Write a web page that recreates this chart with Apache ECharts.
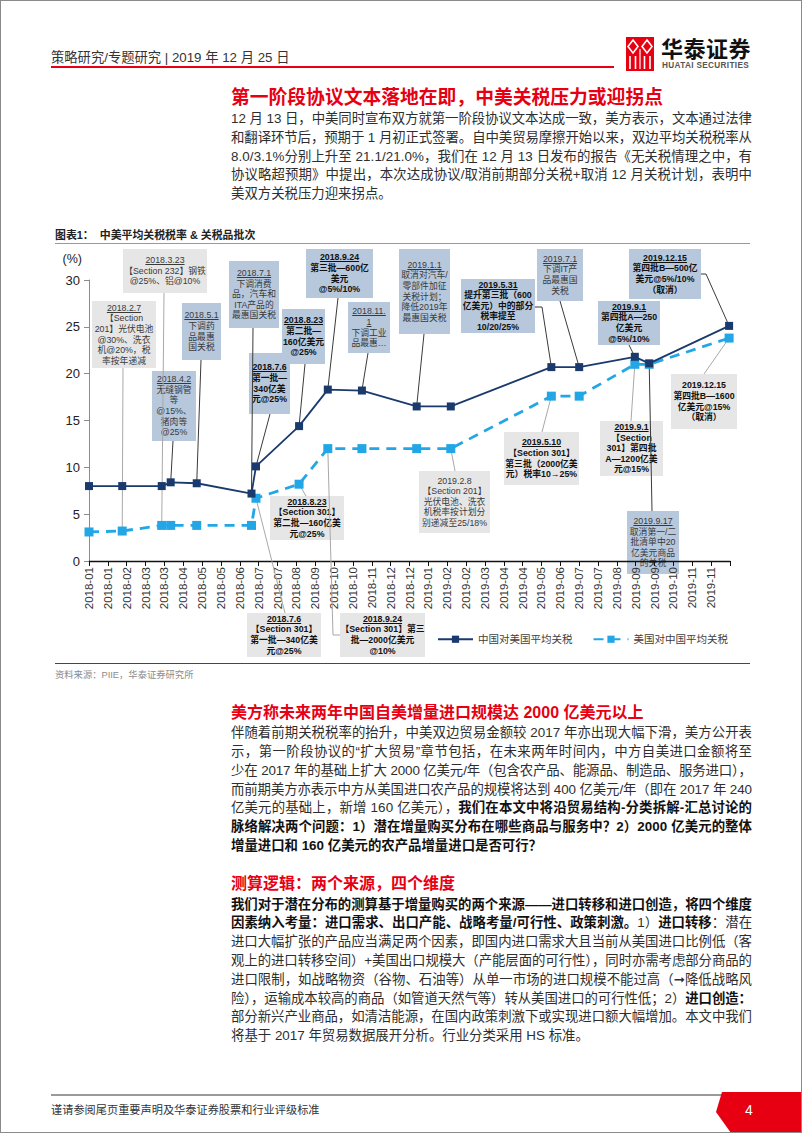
<!DOCTYPE html>
<html lang="zh-CN">
<head>
<meta charset="utf-8">
<script src="https://cdn.jsdelivr.net/npm/echarts@6/dist/echarts.min.js"></script>
<style>
html,body{margin:0;padding:0;background:#fff;}
#page{position:relative;width:802px;height:1133px;overflow:hidden;background:#fff;font-family:"Liberation Sans","Noto Sans CJK SC","DejaVu Sans",sans-serif;}
#frame{position:absolute;left:0;top:0;width:802px;height:1133px;box-sizing:border-box;border:1px solid #8a8a8a;z-index:10;pointer-events:none;}
.abs{position:absolute;white-space:nowrap;}
.title{color:#e60012;font-weight:bold;}
.ln{position:absolute;left:231px;white-space:nowrap;font-size:13.4px;line-height:18.8px;height:18.8px;color:#2e2e2e;}
.ln b{font-weight:bold;color:#111;}
#notes{position:absolute;left:0;top:0;width:802px;height:1133px;z-index:1;}
#chart{position:absolute;left:0;top:0;width:802px;height:1133px;z-index:2;}
.note{position:absolute;display:flex;flex-direction:column;justify-content:center;align-items:center;text-align:center;font-size:8.8px;line-height:10.6px;white-space:nowrap;color:#3a3a3a;}
.note.blue{background:#b7c8dd;}
.note.gray{background:#e6e6e6;}
.note.bold{font-weight:bold;color:#111;}
.note span.u{text-decoration:underline;}
</style>
</head>
<body>
<div id="page">
  <div id="frame"></div>

  <!-- header -->
  <div class="abs" style="left:51px;top:50px;font-size:13.3px;line-height:16px;color:#333;">策略研究/专题研究 | 2019 年 12 月 25 日</div>
  <div class="abs" style="left:51px;top:66px;width:563px;height:1.5px;background:#e60012;"></div>
  <svg class="abs" style="left:626px;top:37px;" width="28" height="34" viewBox="0 0 28 34">
    <rect x="0" y="0" width="28" height="34" fill="#e60012"/>
    <polygon points="7,3 12,9.5 7,16 2,9.5" fill="none" stroke="#fff" stroke-width="1.6"/>
    <polygon points="21,3 26,9.5 21,16 16,9.5" fill="none" stroke="#fff" stroke-width="1.6"/>
    <line x1="4" y1="19" x2="4" y2="32" stroke="#fff" stroke-width="1.6"/>
    <line x1="9.5" y1="19" x2="9.5" y2="32" stroke="#fff" stroke-width="1.6"/>
    <line x1="18.5" y1="19" x2="18.5" y2="32" stroke="#fff" stroke-width="1.6"/>
    <line x1="24" y1="19" x2="24" y2="32" stroke="#fff" stroke-width="1.6"/>
    <line x1="14" y1="12" x2="14" y2="32" stroke="#fff" stroke-width="1.2"/>
  </svg>
  <div class="abs" style="left:661px;top:38px;font-size:22px;line-height:24px;font-weight:bold;color:#111;letter-spacing:0.5px;">华泰证券</div>
  <div class="abs" style="left:662px;top:61px;font-size:8.2px;line-height:10px;font-weight:bold;color:#555;letter-spacing:0.35px;">HUATAI SECURITIES</div>

  <!-- title 1 + para 1 -->
  <div class="abs title" style="left:231px;top:86px;font-size:18.8px;line-height:24px;">第一阶段协议文本落地在即，中美关税压力或迎拐点</div>
  <div class="ln j" style="top:110px;">12 月 13 日，中美同时宣布双方就第一阶段协议文本达成一致，美方表示，文本通过法律</div>
  <div class="ln j" style="top:128.8px;">和翻译环节后，预期于 1 月初正式签署。自中美贸易摩擦开始以来，双边平均关税税率从</div>
  <div class="ln j" style="top:147.6px;">8.0/3.1%分别上升至 21.1/21.0%，我们在 12 月 13 日发布的报告《无关税情理之中，有</div>
  <div class="ln j" style="top:166.4px;">协议略超预期》中提出，本次达成协议/取消前期部分关税+取消 12 月关税计划，表明中</div>
  <div class="ln" style="top:185.2px;">美双方关税压力迎来拐点。</div>

  <!-- figure label -->
  <div class="abs" style="left:55px;top:228px;font-size:10.9px;line-height:14px;font-weight:bold;color:#222;">图表1：&nbsp;&nbsp;中美平均关税税率 &amp; 关税品批次</div>
  <div class="abs" style="left:55px;top:243px;width:695px;height:1px;background:#e07b7b;"></div>

  <div id="notes"></div>
  <div id="chart"></div>

  <!-- source -->
  <div class="abs" style="left:55px;top:662.5px;width:695px;height:1px;background:#e60012;"></div>
  <div class="abs" style="left:55px;top:669px;font-size:9.3px;line-height:12px;color:#8c8c8c;">资料来源：PIIE，华泰证券研究所</div>

  <!-- title 2 + para 2 -->
  <div class="abs title" style="left:231px;top:703px;font-size:16px;line-height:20px;">美方称未来两年中国自美增量进口规模达 2000 亿美元以上</div>
  <div class="ln j" style="top:724.1px;">伴随着前期关税税率的抬升，中美双边贸易金额较 2017 年亦出现大幅下滑，美方公开表</div>
  <div class="ln j" style="top:742.9px;">示，第一阶段协议的“扩大贸易”章节包括，在未来两年时间内，中方自美进口金额将至</div>
  <div class="ln j" style="top:761.7px;">少在 2017 年的基础上扩大 2000 亿美元/年（包含农产品、能源品、制造品、服务进口），</div>
  <div class="ln j" style="top:780.5px;">而前期美方亦表示中方从美国进口农产品的规模将达到 400 亿美元/年（即在 2017 年 240</div>
  <div class="ln j" style="top:799.3px;">亿美元的基础上，新增 160 亿美元），<b>我们在本文中将沿贸易结构-分类拆解-汇总讨论的</b></div>
  <div class="ln j" style="top:818.1px;"><b>脉络解决两个问题：1）潜在增量购买分布在哪些商品与服务中？2）2000 亿美元的整体</b></div>
  <div class="ln" style="top:836.9px;"><b>增量进口和 160 亿美元的农产品增量进口是否可行？</b></div>

  <!-- title 3 + para 3 -->
  <div class="abs title" style="left:231px;top:874px;font-size:16px;line-height:20px;">测算逻辑：两个来源，四个维度</div>
  <div class="ln j" style="top:895.6px;"><b>我们对于潜在分布的测算基于增量购买的两个来源——进口转移和进口创造，将四个维度</b></div>
  <div class="ln j" style="top:914.4px;"><b>因素纳入考量：进口需求、出口产能、战略考量/可行性、政策刺激。</b>1）<b>进口转移</b>：潜在</div>
  <div class="ln j" style="top:933.2px;">进口大幅扩张的产品应当满足两个因素，即国内进口需求大且当前从美国进口比例低（客</div>
  <div class="ln j" style="top:952px;">观上的进口转移空间）+美国出口规模大（产能层面的可行性），同时亦需考虑部分商品的</div>
  <div class="ln j" style="top:970.8px;">进口限制，如战略物资（谷物、石油等）从单一市场的进口规模不能过高（➞降低战略风</div>
  <div class="ln j" style="top:989.6px;">险），运输成本较高的商品（如管道天然气等）转从美国进口的可行性低；2）<b>进口创造：</b></div>
  <div class="ln j" style="top:1008.4px;">部分新兴产业商品，如清洁能源，在国内政策刺激下或实现进口额大幅增加。本文中我们</div>
  <div class="ln" style="top:1027.2px;">将基于 2017 年贸易数据展开分析。行业分类采用 HS 标准。</div>

  <!-- footer -->
  <div class="abs" style="left:51px;top:1094px;width:672px;height:2px;background:#9a9a9a;"></div>
  <svg class="abs" style="left:0;top:0;" width="802" height="1133">
    <polygon points="722,1092 802,1092 802,1133 731,1133 716,1112" fill="#e60012"/>
  </svg>
  <div class="abs" style="left:51px;top:1103px;font-size:11.2px;line-height:14px;color:#333;">谨请参阅尾页重要声明及华泰证券股票和行业评级标准</div>
  <div class="abs" style="left:745px;top:1102px;font-size:14px;line-height:16px;color:#fff;">4</div>
</div>

<script>
// ---------------- data ----------------
const dates = ['2018-01-01','2018-02-07','2018-03-23','2018-04-02','2018-05-01','2018-07-01','2018-07-06','2018-08-23','2018-09-24','2018-11-01','2019-01-01','2019-02-08','2019-05-31','2019-07-01','2019-09-01','2019-09-17','2019-12-15'];
const cnAvg = [8.0, 8.0, 8.0, 8.4, 8.3, 7.2, 10.1, 14.4, 18.3, 18.2, 16.5, 16.5, 20.7, 20.7, 21.8, 21.1, 25.1];
const usAvg = [3.1, 3.2, 3.8, 3.8, 3.8, 3.8, 6.7, 8.2, 12.0, 12.0, 12.0, 12.0, 17.6, 17.6, 21.0, 21.0, 23.8];
const seriesNames = ['中国对美国平均关税', '美国对中国平均关税'];
const axisStart = '2018-01-01';   // first x tick
const tickDays = 21;               // x tick step (days)
const axisEndDays = 714;           // last x tick (unlabelled)
const yTicks = [0, 5, 10, 15, 20, 25, 30];

// annotation content: text lines, target [seriesIndex, date]
const noteTexts = [
  ['2018.3.23','【Section 232】钢铁','@25%、铝@10%'],
  ['2018.2.7','【Section','201】光伏电池','@30%、洗衣','机@20%，税','率按年递减'],
  ['2018.5.1','下调药','品最惠','国关税'],
  ['2018.4.2','无缝钢管','等','@15%、','猪肉等','@25%'],
  ['2018.7.1','下调消费','品，汽车和','ITA产品的','最惠国关税'],
  ['2018.9.24','第三批—600亿','美元','@5%/10%'],
  ['2018.8.23','第二批—','160亿美元','@25%'],
  ['2018.7.6','第一批—','340亿美','元@25%'],
  ['2018.11.','1','下调工业','品最惠…'],
  ['2019.1.1','取消对汽车/','零部件加征','关税计划；','降低2019年','最惠国关税'],
  ['2019.5.31','提升第三批（600','亿美元）中的部分','税率提至','10/20/25%'],
  ['2019.7.1','下调IT产','品最惠国','关税'],
  ['2019.12.15','第四批B—500亿','美元@5%/10%','（取消）'],
  ['2019.9.1','第四批A—250','亿美元','@5%/10%'],
  ['2019.12.15','第四批B—1600','亿美元@15%','（取消）'],
  ['2019.9.1','【Section','301】第四批','A—1200亿美','元@15%'],
  ['2019.9.17','取消第一/二','批清单中20','亿美元商品','的关税'],
  ['2019.5.10','【Section 301】','第三批（2000亿美','元）税率10→25%'],
  ['2019.2.8','【Section 201】','光伏电池、洗衣','机税率按计划分','别递减至25/18%'],
  ['2018.8.23','【Section 301】','第二批—160亿美','元@25%'],
  ['2018.7.6','【Section 301】','第一批—340亿美','元@25%'],
  ['2018.9.24','【Section 301】第三','批—2000亿美元','@10%']
];
const noteTargets = [
  [1,'2018-03-23'],[1,'2018-02-07'],[0,'2018-05-01'],[0,'2018-04-02'],[0,'2018-07-01'],
  [0,'2018-09-24'],[0,'2018-08-23'],[0,'2018-07-06'],[0,'2018-11-01'],[0,'2019-01-01'],
  [0,'2019-05-31'],[0,'2019-07-01'],[0,'2019-12-15'],[0,'2019-09-01'],[1,'2019-12-15'],
  [1,'2019-09-01'],[0,'2019-09-17'],[1,'2019-05-31'],[1,'2019-02-08'],[1,'2018-08-23'],
  [1,'2018-07-06'],[1,'2018-09-24']
];

// ---------------- layout / style ----------------
const noteBoxes = [
  [123,249,84,44],[92,301,64,67],[182,303,39,57],[152,371,44,70],[229,261,50,67],
  [306,249,67,49],[282,309,43,55],[249,353,41,61],[348,302,42,51],[399,249,51,85],
  [461,279,74,54],[537,249,46,52],[629,249,72,50],[598,301,62,44],[671,374,66,55],
  [600,421,63,55],[627,511,52,63],[504,432,75,53],[419,471,71,62],[270,496,74,44],
  [247,613,74,44],[340,613,85,44]
];
const noteAnchors = [
  [[164,293]],[[123,368]],[[201,360]],[[173,441]],[[253,328]],
  [[338,298]],[[305,364]],[[270,414]],[[368,353]],[[424,334]],
  [[535,307],[542,307]],[[560,301]],[[701,274],[706,274]],[[629,345]],[[704,374]],
  [[631,421]],[[652,511]],[[542,432]],[[455,471]],[[306,496]],
  [[285,613]],[[340,635],[333,635]]
];
const noteKinds = ['gray','gray','blue','blue','blue','blue','blue','blue','blue','blue','blue','blue','blue','blue','gray','gray','blue','gray','gray','gray','gray','gray'];
const noteBold  = [0,0,0,0,0,1,1,1,0,0,1,0,1,1,1,1,0,1,0,1,1,1];
const noteUnder = [1,1,1,1,1,1,1,1,2,1,1,1,1,1,0,1,1,1,0,1,1,1];

const FONT = '"Liberation Sans","Noto Sans CJK SC",sans-serif';
const day0 = Date.parse(axisStart + 'T00:00:00Z');
const dayOf = s => Math.round((Date.parse(s + 'T00:00:00Z') - day0) / 86400000);
const fmtDay = v => {
  if (v >= axisEndDays) return '';
  const d = new Date(day0 + v * 86400000);
  return d.getUTCFullYear() + '-' + String(d.getUTCMonth() + 1).padStart(2, '0');
};

// ---------------- notes (HTML boxes, under the chart layer) ----------------
const notesEl = document.getElementById('notes');
noteTexts.forEach((lines, i) => {
  const b = noteBoxes[i];
  const d = document.createElement('div');
  d.className = 'note ' + noteKinds[i] + (noteBold[i] ? ' bold' : '');
  d.style.left = b[0] + 'px'; d.style.top = b[1] + 'px';
  d.style.width = b[2] + 'px'; d.style.height = b[3] + 'px';
  lines.forEach((t, k) => {
    const s = document.createElement('span');
    s.textContent = t;
    if (k < noteUnder[i]) s.className = 'u';
    d.appendChild(s);
  });
  notesEl.appendChild(d);
});

// ---------------- chart ----------------
const chart = echarts.init(document.getElementById('chart'), null, {renderer: 'svg'});
const option = {
  animation: false,
  backgroundColor: 'transparent',
  grid: {left: 89, top: 280, width: 641, height: 281, outerBoundsMode: 'none', containLabel: false},
  xAxis: {
    type: 'value', min: 0, max: axisEndDays, interval: tickDays,
    axisLine: {show: true, lineStyle: {color: '#111', width: 1.4}},
    axisTick: {show: true, length: 5, lineStyle: {color: '#111'}},
    splitLine: {show: false},
    axisLabel: {rotate: 90, fontSize: 11.5, color: '#333', margin: 6, fontFamily: FONT, formatter: fmtDay, showMaxLabel: true, showMinLabel: true}
  },
  yAxis: {
    type: 'value', min: yTicks[0], max: yTicks[yTicks.length - 1], interval: yTicks[1] - yTicks[0],
    name: '(%)', nameLocation: 'end', nameGap: 15,
    nameTextStyle: {fontSize: 12.5, color: '#222', align: 'right', padding: [0, 7, 0, 0], fontFamily: FONT},
    axisLine: {show: true, lineStyle: {color: '#8c8c8c', width: 1}},
    axisTick: {show: true, length: 5, lineStyle: {color: '#8c8c8c'}},
    splitLine: {show: false},
    axisLabel: {fontSize: 13, color: '#222', margin: 9, fontFamily: FONT}
  },
  legend: {
    left: 432, top: 629, itemWidth: 35, itemHeight: 9, itemGap: 20,
    textStyle: {fontSize: 10.5, color: '#404040', fontFamily: FONT},
    data: seriesNames
  },
  series: [
    {
      name: seriesNames[0], type: 'line', z: 3,
      data: dates.map((d, i) => [dayOf(d), cnAvg[i]]),
      symbol: 'rect', symbolSize: 8,
      itemStyle: {color: '#1a3a6e'},
      lineStyle: {color: '#1a3a6e', width: 1.8}
    },
    {
      name: seriesNames[1], type: 'line', z: 2,
      data: dates.map((d, i) => [dayOf(d), usAvg[i]]),
      symbol: 'rect', symbolSize: 9,
      itemStyle: {color: '#22a6e6'},
      lineStyle: {color: '#22a6e6', width: 2.8, type: [10, 7]}
    }
  ]
};
chart.setOption(option);

// leader lines: box anchor -> data point (through the chart's own scales)
const leaders = noteTargets.map((t, i) => {
  const idx = dates.indexOf(t[1]);
  const v = t[0] === 0 ? cnAvg[idx] : usAvg[idx];
  const p = chart.convertToPixel({seriesIndex: t[0]}, [dayOf(t[1]), v]);
  return {
    type: 'polyline', silent: true, z: 1,
    shape: {points: noteAnchors[i].concat([p])},
    style: {stroke: noteKinds[i] === 'blue' ? '#3a3a3a' : '#a8a8a8', lineWidth: 1, fill: null}
  };
});
chart.setOption({graphic: {elements: leaders}});

// ---------------- justify body lines ----------------
function justify() {
  document.querySelectorAll('.ln.j').forEach(el => {
    el.style.letterSpacing = '0px';
    const w = el.getBoundingClientRect().width;
    const n = el.textContent.length;
    const ls = (521 - w) / (n - 1);
    el.style.letterSpacing = ls + 'px';
  });
}
justify();
if (document.fonts && document.fonts.ready) document.fonts.ready.then(justify);
</script>
</body>
</html>
